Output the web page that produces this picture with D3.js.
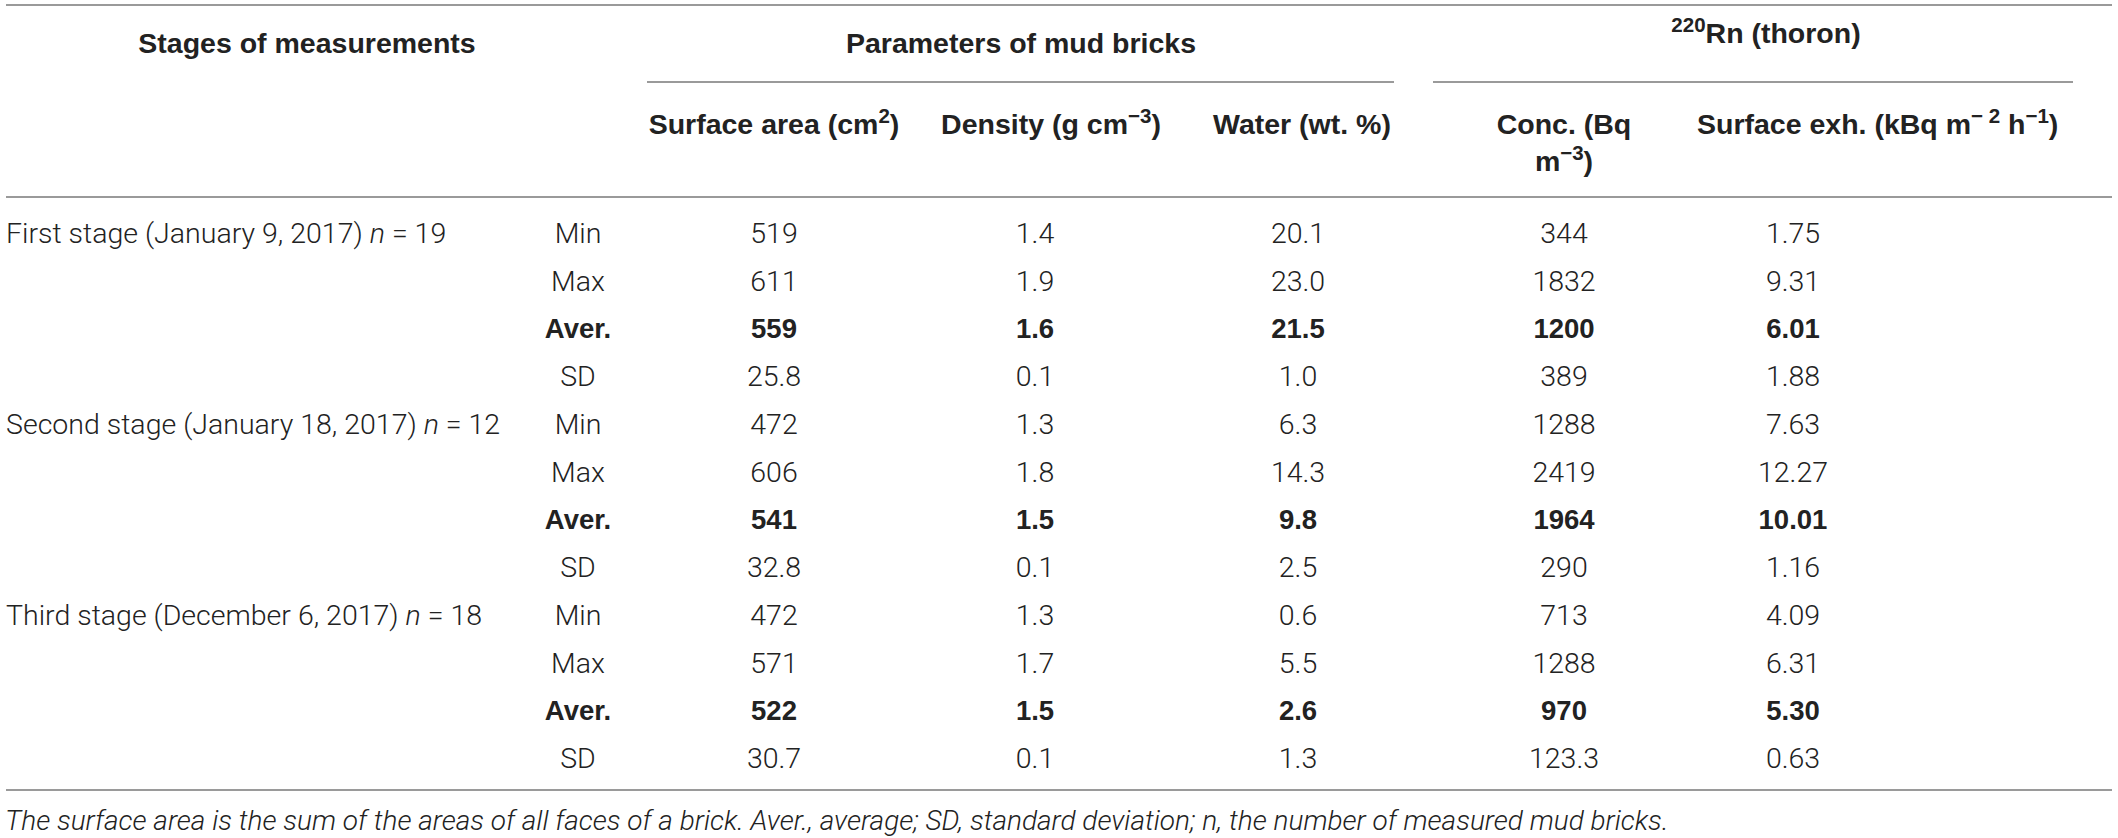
<!DOCTYPE html>
<html>
<head>
<meta charset="utf-8">
<script src="https://cdn.jsdelivr.net/npm/d3@7"></script>
<style>
  body { margin: 0; background: #fff; }
  text { font-family: "Liberation Sans", Arial, sans-serif; fill: #222; }
  text.light { font-family: Roboto, "Liberation Sans", sans-serif; font-weight: 300; }
</style>
</head>
<body>
<div id="chart"></div>
<script>

// table data
var stages          = [ "First stage (January 9, 2017)", "Second stage (January 18, 2017)", "Third stage (December 6, 2017)" ];
var stage_n         = [ "19", "12", "18" ];
var stats           = [ "Min", "Max", "Aver.", "SD" ];

var surface_area    = [ "519", "611", "559", "25.8", "472", "606", "541", "32.8", "472", "571", "522", "30.7" ];
var density         = [ "1.4", "1.9", "1.6", "0.1", "1.3", "1.8", "1.5", "0.1", "1.3", "1.7", "1.5", "0.1" ];
var water           = [ "20.1", "23.0", "21.5", "1.0", "6.3", "14.3", "9.8", "2.5", "0.6", "5.5", "2.6", "1.3" ];
var thoron_conc     = [ "344", "1832", "1200", "389", "1288", "2419", "1964", "290", "713", "1288", "970", "123.3" ];
var surface_exh     = [ "1.75", "9.31", "6.01", "1.88", "7.63", "12.27", "10.01", "1.16", "4.09", "6.31", "5.30", "0.63" ];

var footnote        = "The surface area is the sum of the areas of all faces of a brick. Aver., average; SD, standard deviation; n, the number of measured mud bricks.";

// --------------------------------------------------------

var chart_width     = 2118;
var chart_height    = 838;
var font_size       = 28.5;
var head_size       = 28.5;

var svg = d3.select( "#chart" )
    .append( "svg" )
    .attr( "width", chart_width )
    .attr( "height", chart_height );

// --------------------------------------------------------
// Scales: rows and columns

var n_rows = stages.length * stats.length;

var y_scale = d3.scalePoint()
    .domain( d3.range( n_rows ) )
    .range( [ 233, 758 ] );

var columns = [ "stat", "area", "density", "water", "conc", "exh" ];
var x_scale = d3.scaleOrdinal()
    .domain( columns )
    .range( [ 578, 774, 1035, 1298, 1564, 1793 ] );

var values = {
    area: surface_area,
    density: density,
    water: water,
    conc: thoron_conc,
    exh: surface_exh
};

// --------------------------------------------------------
// helper to write text with superscripts / italics

function rich( g, x, y, parts, opts ) {
    var t = g.append( "text" )
        .attr( "class", opts.bold ? null : "light" )
        .attr( "x", x )
        .attr( "y", y )
        .attr( "dy", "0.36em" )
        .attr( "text-anchor", opts.anchor || "middle" )
        .style( "font-size", ( opts.size || font_size ) + "px" )
        .style( "font-style", opts.italic ? "italic" : "normal" );
    if ( opts.bold ) t.style( "font-weight", "bold" );
    var up = 0;
    parts.forEach( function( p ) {
        var s = t.append( "tspan" ).text( p.t );
        var shift = p.sup ? -11 : 0;
        if ( shift !== up ) { s.attr( "dy", shift - up ); up = shift; }
        if ( p.sup ) s.style( "font-size", "0.72em" );
        if ( p.it ) s.style( "font-style", "italic" );
    } );
    return t;
}

// --------------------------------------------------------
// Rules

var rules = svg.append( "g" )
    .attr( "stroke", "#9a9a9a" )
    .attr( "stroke-width", 2 );

[ [ 6, 2112, 5 ], [ 647, 1394, 82 ], [ 1433, 2073, 82 ], [ 6, 2112, 197 ], [ 6, 2112, 790 ] ]
    .forEach( function( r ) {
        rules.append( "line" )
            .attr( "x1", r[0] ).attr( "x2", r[1] )
            .attr( "y1", r[2] ).attr( "y2", r[2] );
    } );

// --------------------------------------------------------
// Header

var head = svg.append( "g" ).attr( "class", "header" );
var hb = { bold: true, size: head_size };

rich( head, 307, 43, [ { t: "Stages of measurements" } ], hb );
rich( head, 1021, 43, [ { t: "Parameters of mud bricks" } ], hb );
rich( head, 1766, 43, [ { t: "220", sup: true }, { t: "Rn (thoron)" } ], hb );

rich( head, 774, 124, [ { t: "Surface area (cm" }, { t: "2", sup: true }, { t: ")" } ], hb );
rich( head, 1051, 124, [ { t: "Density (g cm" }, { t: "\u22123", sup: true }, { t: ")" } ], hb );
rich( head, 1302, 124, [ { t: "Water (wt. %)" } ], hb );
rich( head, 1564, 124, [ { t: "Conc. (Bq" } ], hb );
rich( head, 1564, 161, [ { t: "m" }, { t: "\u22123", sup: true }, { t: ")" } ], hb );
rich( head, 1697, 124, [ { t: "Surface exh. (kBq m" }, { t: "\u2212 2", sup: true }, { t: "  h" }, { t: "\u22121", sup: true }, { t: ")" } ],
    { bold: true, size: head_size, anchor: "start" } );

// --------------------------------------------------------
// Body

var body = svg.append( "g" ).attr( "class", "body" );

stages.forEach( function( s, i ) {
    rich( body, 6, y_scale( i * stats.length ),
        [ { t: s + " " }, { t: "n", it: true }, { t: " = " + stage_n[i] } ],
        { anchor: "start" } );
} );

var rows = d3.range( n_rows );

body.selectAll( "text.stat" )
    .data( rows )
    .enter()
    .append( "text" )
    .attr( "class", (d) => d % 4 === 2 ? "stat" : "stat light" )
    .attr( "x", x_scale( "stat" ) )
    .attr( "y", (d) => y_scale( d ) )
    .attr( "dy", "0.36em" )
    .attr( "text-anchor", "middle" )
    .style( "font-size", (d) => ( d % 4 === 2 ? font_size - 1 : font_size ) + "px" )
    .style( "font-weight", (d) => d % 4 === 2 ? "bold" : null )
    .text( (d) => stats[ d % 4 ] );

columns.slice( 1 ).forEach( function( c ) {
    body.selectAll( "text.v-" + c )
        .data( values[c] )
        .enter()
        .append( "text" )
        .attr( "class", (d, i) => i % 4 === 2 ? "v-" + c : "v-" + c + " light" )
        .attr( "x", x_scale( c ) )
        .attr( "y", (d, i) => y_scale( i ) )
        .attr( "dy", "0.36em" )
        .attr( "text-anchor", "middle" )
        .style( "font-size", (d, i) => ( i % 4 === 2 ? font_size - 1 : font_size ) + "px" )
        .style( "font-weight", (d, i) => i % 4 === 2 ? "bold" : null )
        .text( (d) => d );
} );

// --------------------------------------------------------
// Footnote

svg.append( "text" )
    .attr( "class", "light" )
    .attr( "x", 5 )
    .attr( "y", 830 )
    .style( "font-size", "28px" )
    .style( "font-style", "italic" )
    .text( footnote );

</script>
</body>
</html>
